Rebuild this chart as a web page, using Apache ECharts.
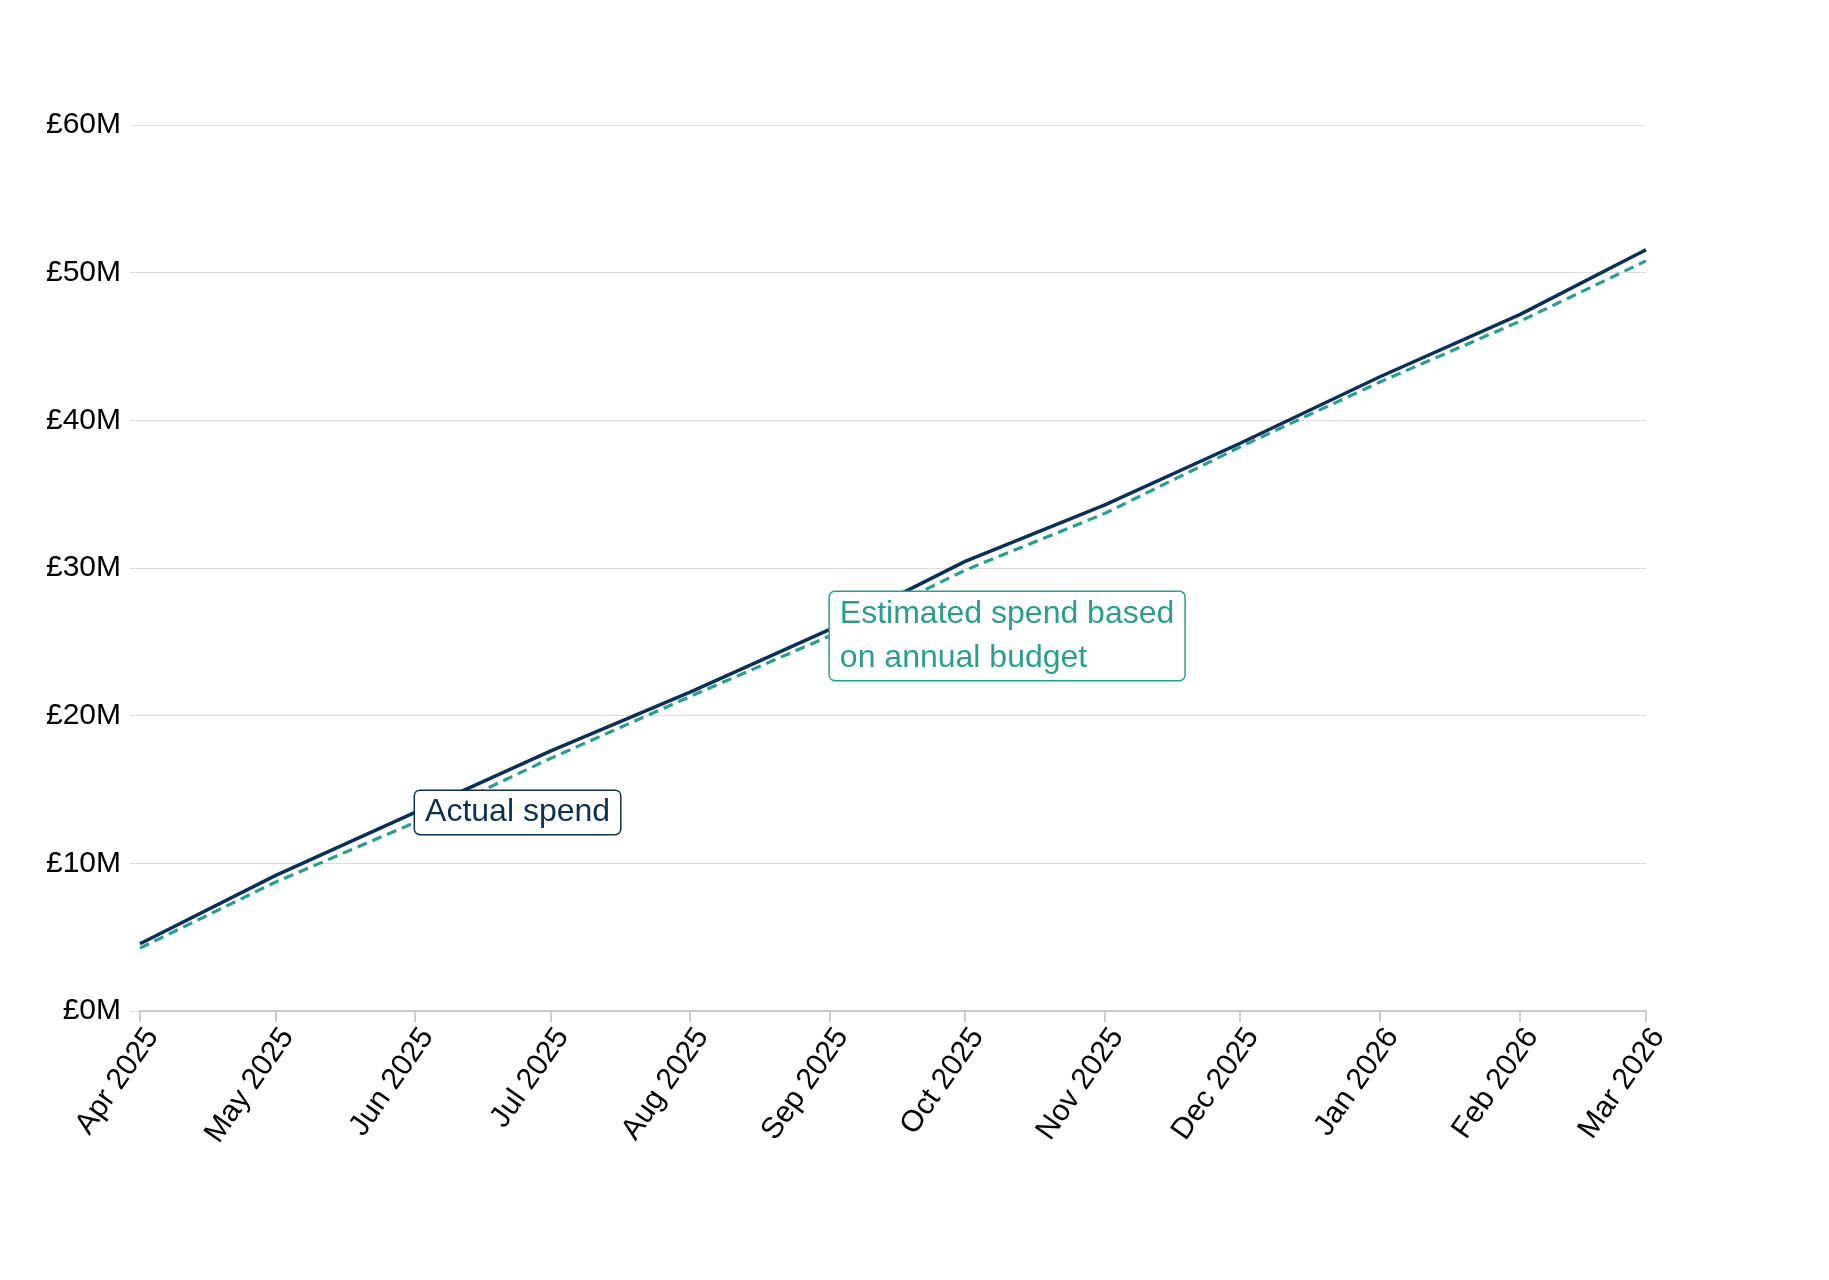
<!DOCTYPE html>
<html>
<head>
<meta charset="utf-8">
<title>Actual vs estimated spend</title>
<script src="https://cdn.jsdelivr.net/npm/echarts@6/dist/echarts.min.js"></script>
<style>
  html, body { margin: 0; padding: 0; background: #fff; }
  #main { width: 1829px; height: 1280px; }
</style>
</head>
<body>
<div id="main"></div>
<script>
// months (first day of each month), values in £M
var months = ['2025-04-01', '2025-05-01', '2025-06-01', '2025-07-01', '2025-08-01', '2025-09-01',
              '2025-10-01', '2025-11-01', '2025-12-01', '2026-01-01', '2026-02-01', '2026-03-01'];
var monthNames = ['Jan', 'Feb', 'Mar', 'Apr', 'May', 'Jun', 'Jul', 'Aug', 'Sep', 'Oct', 'Nov', 'Dec'];
var actualSpend = [4.55, 9.17, 13.45, 17.6, 21.6, 25.84, 30.45, 34.28, 38.45, 42.95, 47.16, 51.55];
var estimatedSpend = [4.26, 8.72, 12.77, 17.1, 21.3, 25.4, 29.85, 33.7, 38.2, 42.6, 46.7, 50.8];
var yTicks = [0, 10, 20, 30, 40, 50, 60];

var navy = '#0b3057',
    teal = '#2a9d8f',
    font = 'Liberation Sans, Arial, sans-serif';

function pairs(vals) {
    return months.map(function (m, i) { return [m, vals[i]]; });
}

var myChart = echarts.init(document.getElementById('main'));

var option = {
    backgroundColor: '#fff',
    animation: false,
    grid: { left: 140, right: 183, top: 125, bottom: 269 },
    xAxis: {
        type: 'time',
        min: months[0],
        max: months[months.length - 1],
        splitNumber: 12,
        minInterval: 28 * 86400000,
        maxInterval: 31 * 86400000,
        axisLine: { lineStyle: { color: '#bdbdbd', width: 1.5 } },
        axisTick: { show: true, length: 11, lineStyle: { color: '#bdbdbd', width: 1.5 } },
        splitLine: { show: false },
        axisLabel: {
            rotate: 55,
            margin: 12,
            fontSize: 30,
            fontFamily: font,
            color: '#000',
            verticalAlign: 'top',
            hideOverlap: false,
            showMinLabel: true,
            showMaxLabel: true,
            formatter: function (val) {
                var d = new Date(val);
                return monthNames[d.getMonth()] + ' ' + d.getFullYear();
            }
        }
    },
    yAxis: {
        type: 'value',
        min: yTicks[0],
        max: yTicks[yTicks.length - 1],
        interval: 10,
        axisLine: { show: false },
        axisTick: { show: true, length: 10, lineStyle: { color: '#dcdcdc' } },
        splitLine: { lineStyle: { color: '#dcdcdc', width: 1.2 } },
        axisLabel: {
            margin: 19,
            fontSize: 30,
            fontFamily: font,
            color: '#000',
            formatter: '£{value}M'
        }
    },
    series: [
        {
            name: 'Estimated spend based on annual budget',
            type: 'line',
            data: pairs(estimatedSpend),
            showSymbol: false,
            lineStyle: { color: teal, width: 3.2, type: [10, 6] },
            z: 2,
            markPoint: {
                symbol: 'circle',
                symbolSize: 0,
                data: [{
                    coord: [months[5], estimatedSpend[5]],
                    label: {
                        show: true,
                        position: 'right',
                        distance: 0,
                        formatter: 'Estimated spend based\non annual budget',
                        color: teal,
                        fontSize: 32,
                        fontFamily: font,
                        lineHeight: 44,
                        backgroundColor: '#fff',
                        borderColor: teal,
                        borderWidth: 1.5,
                        borderRadius: 5,
                        padding: [0, 10, 0, 10]
                    }
                }]
            }
        },
        {
            name: 'Actual spend',
            type: 'line',
            data: pairs(actualSpend),
            showSymbol: false,
            lineStyle: { color: navy, width: 3.5 },
            z: 3,
            markPoint: {
                symbol: 'circle',
                symbolSize: 0,
                data: [{
                    coord: [months[2], actualSpend[2]],
                    label: {
                        show: true,
                        position: 'right',
                        distance: 0,
                        formatter: 'Actual spend',
                        color: navy,
                        fontSize: 32,
                        fontFamily: font,
                        lineHeight: 40,
                        backgroundColor: '#fff',
                        borderColor: navy,
                        borderWidth: 1.5,
                        borderRadius: 5,
                        padding: [2, 10, 1, 10]
                    }
                }]
            }
        }
    ]
};

myChart.setOption(option);
</script>
</body>
</html>
